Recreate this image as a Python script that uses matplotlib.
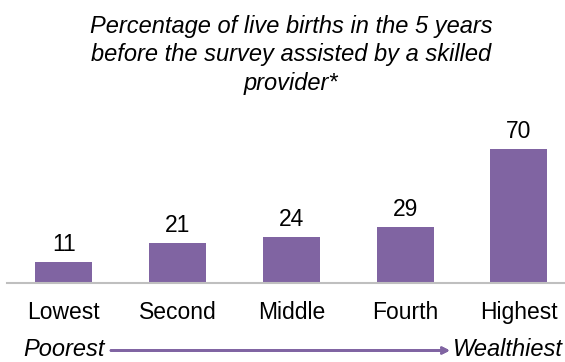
import matplotlib.pyplot as plt

plt.rcParams['font.family'] = ['Liberation Sans', 'DejaVu Sans']

quintiles = ['Lowest', 'Second', 'Middle', 'Fourth', 'Highest']
values = [11, 21, 24, 29, 70]
title = 'Percentage of live births in the 5 years\nbefore the survey assisted by a skilled\nprovider*'

purple = '#8064a2'
W, H = 565, 362
step = 113.75  # px between category centres

fig = plt.figure(figsize=(W / 100, H / 100), dpi=100)
ax = fig.add_axes([7 / W, (H - 282.7) / H, (W - 7) / W, 143 / H])

x = list(range(len(quintiles)))
bars = ax.bar(x, values, width=0.5, color=purple)
ax.set_xlim(-0.5, -0.5 + (W - 7) / step)
ax.set_ylim(0, 75)

for b, v in zip(bars, values):
    ax.annotate(str(v), (b.get_x() + b.get_width() / 2, v), xytext=(0, 8),
                textcoords='offset points', ha='center', va='baseline', fontsize=16.5)

ax.set_xticks(x)
ax.set_xticklabels(quintiles, fontsize=16.5)
ax.tick_params(axis='x', length=0, pad=13)
ax.set_yticks([])
for s in ['top', 'right', 'left']:
    ax.spines[s].set_visible(False)
ax.spines['bottom'].set_color('#bfbfbf')
ax.spines['bottom'].set_linewidth(1.5)

fig.text(291 / W, 1 - 55 / H, title, ha='center', va='center', fontsize=17,
         style='italic', linespacing=1.3)

# wealth direction arrow
fig.text(23 / W, 1 - 356.5 / H, 'Poorest', ha='left', va='baseline', fontsize=17, style='italic')
fig.text(563 / W, 1 - 356.5 / H, 'Wealthiest', ha='right', va='baseline', fontsize=17, style='italic')
fig.add_artist(plt.annotate('', xy=(450 / W, 1 - 350.5 / H), xytext=(111 / W, 1 - 350.5 / H),
                            xycoords='figure fraction', textcoords='figure fraction',
                            arrowprops=dict(arrowstyle='->', color=purple, lw=2,
                                            shrinkA=0, shrinkB=0)))

fig.savefig('out.png', dpi=100)
